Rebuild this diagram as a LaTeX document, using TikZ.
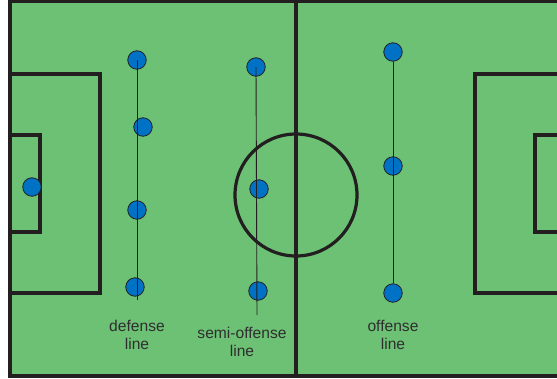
\documentclass[tikz,border=0pt]{standalone}
\usepackage{fontspec}
\setmainfont{Liberation Sans}
\definecolor{pitch}{HTML}{6CC174}
\definecolor{player}{HTML}{0072C6}
\definecolor{ink}{HTML}{231F20}
\definecolor{txt}{HTML}{2E2E2E}
\begin{document}
\begin{tikzpicture}[x=1pt,y=-1pt,
  fieldline/.style={draw=ink,line width=3.2pt},
  pl/.style={circle,fill=player,draw=ink,line width=0.8pt,minimum size=18.5pt,inner sep=0pt},
  formline/.style={draw=ink,line width=0.9pt},
  lbl/.style={text=txt,align=center,font=\fontsize{15.6}{18}\selectfont,inner sep=0pt}]
\useasboundingbox (0,0) rectangle (557,378);
\clip (0,0) rectangle (557,378);
% pitch
\fill[pitch] (10,1.5) rectangle (600,376);
\draw[fieldline] (10,1.5) rectangle (600,376);
\draw[fieldline] (296,1.5) -- (296,376);
\draw[fieldline] (296,195) circle (61);
% left boxes
\draw[fieldline] (10,74) -- (100,74) -- (100,293) -- (10,293);
\draw[fieldline] (10,135) -- (40,135) -- (40,232) -- (10,232);
% right boxes
\draw[fieldline] (600,74) -- (475,74) -- (475,293) -- (600,293);
\draw[fieldline] (600,135) -- (535,135) -- (535,232) -- (600,232);
% players
\node[pl] (gk) at (32,187) {};
\node[pl] (d1) at (137,60) {};
\node[pl] (d2) at (143,127) {};
\node[pl] (d3) at (137,210) {};
\node[pl] (d4) at (135,287) {};
\node[pl] (s1) at (256,67) {};
\node[pl] (s2) at (259,189) {};
\node[pl] (s3) at (258,291) {};
\node[pl] (o1) at (393,52) {};
\node[pl] (o2) at (393,166) {};
\node[pl] (o3) at (393,293) {};
% formation lines
\coordinate (dend) at (137,300);
\coordinate (send) at (257,315);
\draw[formline] (d1.center) -- (dend);
\draw[formline] (s1.center) -- (send);
\draw[formline] (o1.south) -- (o3.north);
% labels
\node[lbl] (ld) at (137,335) {defense\\line};
\node[lbl] (ls) at (242,342) {semi-offense\\line};
\node[lbl] (lo) at (393,335) {offense\\line};
\end{tikzpicture}
\end{document}
